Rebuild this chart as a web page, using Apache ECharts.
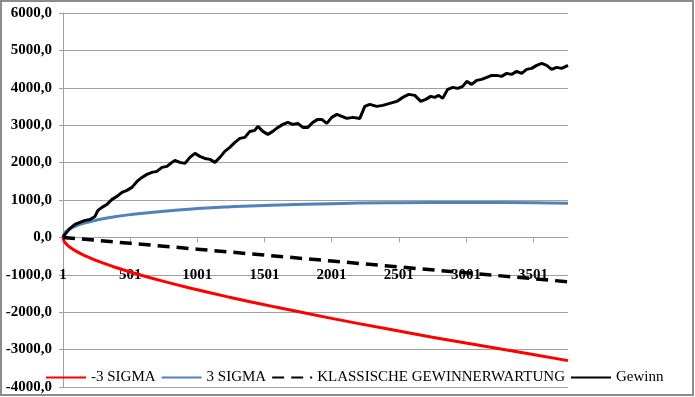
<!DOCTYPE html>
<html>
<head>
<meta charset="utf-8">
<script src="https://cdn.jsdelivr.net/npm/echarts@6/dist/echarts.min.js"></script>
<style>
  html, body { margin: 0; padding: 0; background: #fff; }
  #main { width: 695px; height: 397px; }
</style>
</head>
<body>
<div id="main"></div>
<script>
// x values are step - 1, labels show step
const xTicks = [0, 500, 1000, 1500, 2000, 2500, 3000, 3500]

// -3 / +3 sigma band
const sigmaSteps = [0, 10, 25, 50, 100, 175, 250, 375, 500, 750, 1000, 1250, 1500, 2000, 2500, 3000, 3500, 3760]
const sigmaLow = [0, -112, -179, -259, -375, -509, -621, -782, -925, -1176, -1400, -1607, -1801, -2165, -2504, -2825, -3133, -3295]
const sigmaHigh = [0, 106, 164, 227, 311, 399, 463, 546, 609, 702, 770, 819, 855, 903, 926, 933, 925, 910]

// klassische Gewinnerwartung
const expSteps = [0, 500, 1000, 1500, 2000, 2500, 3000, 3500, 3760]
const expValues = [0, -158, -315, -473, -631, -789, -946, -1104, -1186]

// Gewinn
const gewinnSteps = [0, 15, 52, 89, 126, 164, 201, 238, 260, 290, 327, 365, 402, 439, 476, 513, 551, 588, 625, 662,
  699, 737, 774, 811, 833, 870, 908, 945, 982, 1019, 1056, 1094, 1131, 1168, 1205, 1242, 1280, 1317, 1354, 1391,
  1428, 1451, 1488, 1525, 1562, 1600, 1637, 1674, 1711, 1748, 1786, 1823, 1860, 1897, 1927, 1964, 2001, 2039, 2076,
  2113, 2158, 2210, 2247, 2284, 2336, 2381, 2433, 2485, 2530, 2574, 2619, 2664, 2701, 2738, 2768, 2797, 2827, 2864,
  2902, 2939, 2976, 3006, 3043, 3080, 3117, 3155, 3192, 3229, 3266, 3303, 3340, 3378, 3415, 3452, 3489, 3527, 3564,
  3601, 3638, 3675, 3713, 3760]
const gewinn = [0, 80, 241, 348, 401, 455, 481, 561, 722, 802, 882, 1016, 1096, 1203, 1257, 1337, 1497, 1604, 1685, 1738,
  1765, 1872, 1899, 2006, 2059, 2006, 1979, 2139, 2246, 2166, 2112, 2086, 2006, 2139, 2300, 2407, 2540, 2647, 2674, 2834,
  2861, 2968, 2834, 2754, 2834, 2941, 3022, 3075, 3022, 3048, 2941, 2941, 3075, 3155, 3155, 3048, 3209, 3289, 3236,
  3182, 3209, 3182, 3503, 3556, 3503, 3530, 3583, 3637, 3744, 3824, 3797, 3637, 3690, 3770, 3744, 3797, 3717, 3958,
  4011, 3984, 4038, 4171, 4091, 4198, 4225, 4278, 4332, 4332, 4305, 4385, 4359, 4439, 4385, 4492, 4519, 4599, 4653,
  4599, 4492, 4546, 4519, 4599]

function pairs(xs, ys) {
  return xs.map((x, i) => [x, ys[i]])
}

const serif = '"Liberation Serif", "Times New Roman", serif'
const gridColor = '#a0a0a0'

const myChart = echarts.init(document.querySelector('#main'))
myChart.setOption({
  backgroundColor: '#fff',
  animation: false,
  grid: { left: 63, right: 127, top: 13, bottom: 10 },
  graphic: [{
    type: 'rect',
    shape: { x: 1, y: 1, width: 692, height: 394 },
    style: { fill: 'none', stroke: '#8c8c8c', lineWidth: 2 },
    silent: true
  }],
  legend: {
    left: 40,
    top: 365,
    itemWidth: 40,
    itemHeight: 14,
    itemGap: 5,
    // only the line, no dot
    itemStyle: { opacity: 0 },
    textStyle: { fontFamily: serif, fontSize: 15, color: '#000' },
    data: ['-3 SIGMA', '3 SIGMA', 'KLASSISCHE GEWINNERWARTUNG', 'Gewinn']
  },
  xAxis: {
    type: 'value',
    min: 0,
    max: 3760,
    // axis crosses the y axis at 0 (grid bottom is at -4000, 0 sits 149.6px higher)
    offset: -149.6,
    axisLine: { onZero: true, lineStyle: { color: gridColor, width: 1 } },
    axisTick: { show: true, length: 5, customValues: xTicks, lineStyle: { color: gridColor } },
    axisLabel: {
      customValues: xTicks,
      margin: 30,
      formatter: v => String(v + 1),
      fontFamily: serif,
      fontSize: 15,
      fontWeight: 'bold',
      color: '#000'
    },
    splitLine: { show: false }
  },
  yAxis: {
    type: 'value',
    min: -4000,
    max: 6000,
    interval: 1000,
    axisLine: { show: true, onZero: false, lineStyle: { color: gridColor, width: 1 } },
    axisTick: { show: true, length: 4, lineStyle: { color: gridColor } },
    axisLabel: {
      margin: 11,
      formatter: v => v.toFixed(1).replace('.', ','),
      fontFamily: serif,
      fontSize: 15,
      fontWeight: 'bold',
      color: '#000'
    },
    splitLine: { lineStyle: { color: gridColor, width: 1 } }
  },
  series: [
    {
      name: '-3 SIGMA',
      type: 'line',
      smooth: true,
      symbol: 'none',
      data: pairs(sigmaSteps, sigmaLow),
      lineStyle: { color: '#ff0000', width: 3 },
      itemStyle: { color: '#ff0000' }
    },
    {
      name: '3 SIGMA',
      type: 'line',
      smooth: true,
      symbol: 'none',
      data: pairs(sigmaSteps, sigmaHigh),
      lineStyle: { color: '#4f81bd', width: 3 },
      itemStyle: { color: '#4f81bd' }
    },
    {
      name: 'KLASSISCHE GEWINNERWARTUNG',
      type: 'line',
      symbol: 'none',
      data: pairs(expSteps, expValues),
      lineStyle: { color: '#000', width: 3.5, type: [12, 7] },
      itemStyle: { color: '#000' }
    },
    {
      name: 'Gewinn',
      type: 'line',
      symbol: 'none',
      data: pairs(gewinnSteps, gewinn),
      lineStyle: { color: '#000', width: 3 },
      itemStyle: { color: '#000' }
    }
  ]
})
</script>
</body>
</html>
